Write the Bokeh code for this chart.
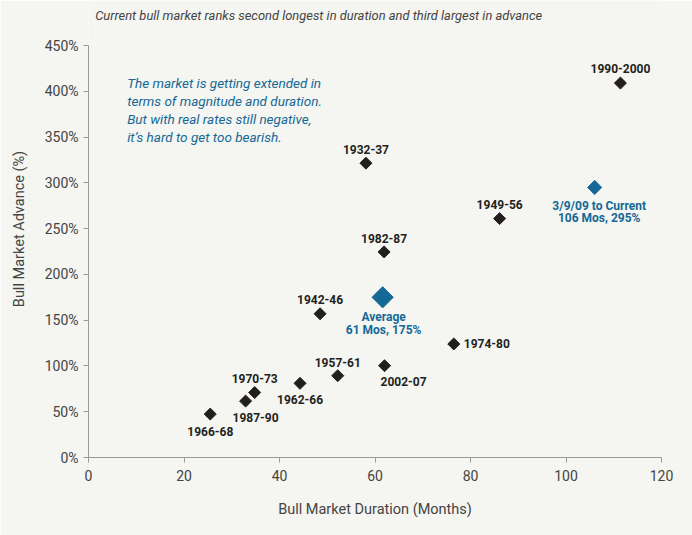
import math
from bokeh.plotting import figure
from bokeh.models import Range1d, FixedTicker, PrintfTickFormatter, Label
from bokeh.core.properties import value
from bokeh.embed import file_html
from bokeh.resources import INLINE

# ---- data ----
periods = ["1990-2000", "1949-56", "1932-37", "1982-87", "1942-46", "1974-80",
           "2002-07", "1957-61", "1962-66", "1970-73", "1987-90", "1966-68"]
duration_months = [111.4, 86.1, 58.1, 61.9, 48.5, 76.5, 62.0, 52.2, 44.3, 34.8, 32.9, 25.5]
advance_pct = [409, 261, 321.5, 224.6, 157, 124, 100.3, 89.4, 81, 71, 61.6, 47.4]

current_label = ["3/9/09 to Current", "106 Mos, 295%"]
current_duration = [106]
current_advance = [295]

average_label = ["Average", "61 Mos, 175%"]
average_duration = [61.6]
average_advance = [175]

x_ticks = [0, 20, 40, 60, 80, 100, 120]
y_ticks = [0, 50, 100, 150, 200, 250, 300, 350, 400, 450]

title_text = "Current bull market ranks second longest in duration and third largest in advance"
note_text = ("The market is getting extended in\nterms of magnitude and duration.\n"
             "But with real rates still negative,\nit\u2019s hard to get too bearish.")

# ---- style ----
BG = "#f5f5f1"
DARK = "#231f20"
BLUE = "#146996"
GREY = "#444444"
AXIS = "#9a9a9a"
FONT = "Roboto"

# label offsets in screen px (dx, dy, align); dy positive = down
offsets = {
    "1990-2000": (0, -15, "center"),
    "1949-56": (0, -14, "center"),
    "1932-37": (0, -13.5, "center"),
    "1982-87": (0, -13, "center"),
    "1942-46": (0, -14.5, "center"),
    "1974-80": (10, 0, "left"),
    "2002-07": (19, 16, "center"),
    "1957-61": (0, -13.5, "center"),
    "1962-66": (0, 16, "center"),
    "1970-73": (0, -14, "center"),
    "1987-90": (10, 16, "center"),
    "1966-68": (0, 17, "center"),
}

Y_MAX = 450
Y_VIEW = 499.2  # headroom above the axis for the chart subtitle

p = figure(width=692, height=535, output_backend="svg", toolbar_location=None,
           x_range=Range1d(0, 120), y_range=Range1d(0, Y_VIEW),
           min_border_left=88, min_border_right=31, min_border_top=0,
           min_border_bottom=78)
p.background_fill_color = BG
p.border_fill_color = BG
p.outline_line_color = None
p.grid.visible = False

for ax in (p.xaxis[0], p.yaxis[0]):
    ax.axis_line_color = AXIS
    ax.major_tick_line_color = AXIS
    ax.minor_tick_line_color = None
    ax.major_tick_in = 0
    ax.major_tick_out = 5
    ax.major_label_text_color = GREY
    ax.major_label_text_font = FONT
    ax.major_label_text_font_size = "14px"
    ax.axis_label_text_color = GREY
    ax.axis_label_text_font = FONT
    ax.axis_label_text_font_size = "14.5px"
    ax.axis_label_text_font_style = "normal"

p.xaxis.ticker = FixedTicker(ticks=x_ticks)
p.yaxis.ticker = FixedTicker(ticks=y_ticks)
p.yaxis.bounds = (0, Y_MAX)
p.yaxis.formatter = PrintfTickFormatter(format="%d%%")
p.xaxis.axis_label = "Bull Market Duration (Months)"
p.yaxis.axis_label = "Bull Market Advance (%)"
p.xaxis.axis_label_standoff = 17
p.yaxis.axis_label_standoff = 14
p.xaxis.major_label_standoff = 7
p.yaxis.major_label_standoff = 5

# points
p.scatter(duration_months, advance_pct, marker="square", size=8.5, angle=math.pi / 4,
          fill_color=DARK, line_color=DARK)
p.scatter(current_duration, current_advance, marker="square", size=10, angle=math.pi / 4,
          fill_color=BLUE, line_color=BLUE)
p.scatter(average_duration, average_advance, marker="square", size=15, angle=math.pi / 4,
          fill_color=BLUE, line_color=BLUE)

for name, xv, yv in zip(periods, duration_months, advance_pct):
    dx, dy, al = offsets[name]
    p.text([xv], [yv], text=[name], x_offset=dx, y_offset=dy, text_align=al,
           text_baseline="middle", text_font=value(FONT), text_font_size="12px",
           text_font_style="bold", text_color=DARK)

for line, dy in zip(current_label, (18.5, 30.5)):
    p.text(current_duration, current_advance, text=[line], x_offset=4.5, y_offset=dy,
           text_align="center", text_baseline="middle", text_font=value(FONT),
           text_font_size="12px", text_font_style="bold", text_color=BLUE)

for line, dy in zip(average_label, (20, 33)):
    p.text(average_duration, average_advance, text=[line], x_offset=1, y_offset=dy,
           text_align="center", text_baseline="middle", text_font=value(FONT),
           text_font_size="12px", text_font_style="bold", text_color=BLUE)

# subtitle and annotation
p.add_layout(Label(x=1.4, y=482.8, text=title_text, text_font=FONT, text_font_size="12.9px",
                   text_font_style="italic", text_color="#444444", text_baseline="middle"))
p.add_layout(Label(x=8.1, y=418, text=note_text, text_font=FONT, text_font_size="13.5px",
                   text_font_style="italic", text_color=BLUE, text_baseline="top",
                   text_line_height=1.12))

open("out.html", "w").write(file_html(p, INLINE))
